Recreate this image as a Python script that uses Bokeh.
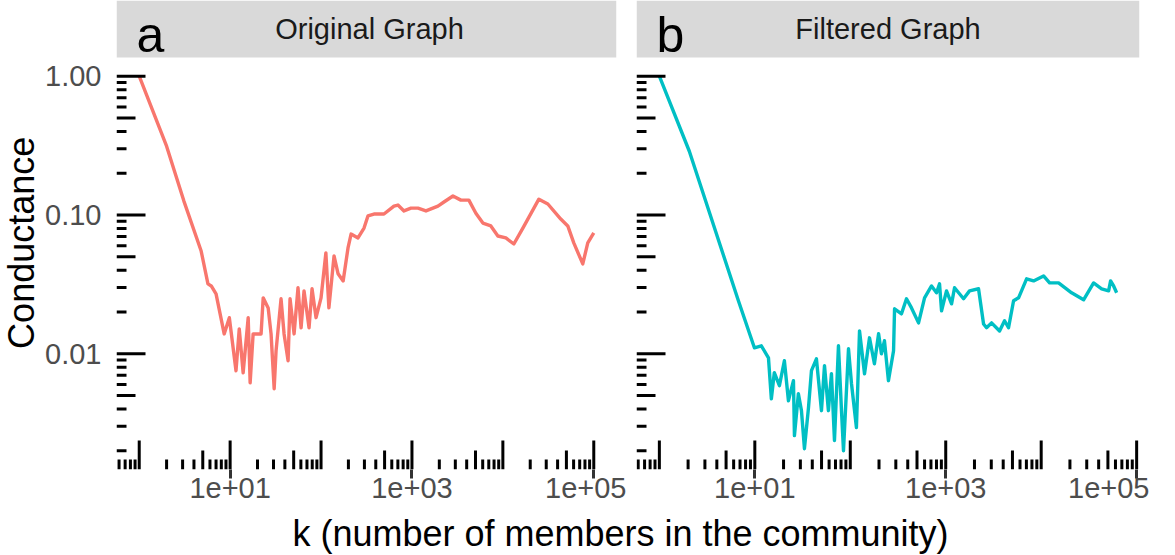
import numpy as np
from bokeh.plotting import figure
from bokeh.models import (Range1d, FixedTicker, PrintfTickFormatter, Label,
                          ColumnDataSource, BoxAnnotation)
from bokeh.layouts import column, row
from bokeh.embed import file_html
from bokeh.resources import INLINE

# ---------------- data ----------------
panel_titles = ["Original Graph", "Filtered Graph"]
panel_tags = ["a", "b"]
line_colors = ["#F8766D", "#00BFC4"]

k_orig = [1, 2, 3.1, 4.8, 5.7, 6.2, 7.0, 8.6, 9.8, 11.6, 12.6, 13.9, 15.8, 16.6,
          17.9, 21.9, 23.1, 26.2, 28.2, 30.5, 32, 36.3, 39.2, 43.4, 45.6, 50.5,
          55.8, 60.3, 65, 73.8, 79.6, 88.1, 100, 113, 122, 139, 154, 175, 198,
          214, 255, 297, 328, 382, 492, 634, 701, 817, 975, 1164, 1426, 1932,
          2249, 2825, 3451, 4227, 5047, 6026, 7379, 8810, 10790, 13210, 16600,
          24890, 31260, 43350, 51760, 60260, 75680, 85900, 100000]
cond_orig = [1.0, 0.313, 0.126, 0.055, 0.0319, 0.0308, 0.027, 0.0139, 0.0182,
             0.00755, 0.0151, 0.0073, 0.0182, 0.00618, 0.0139, 0.0139, 0.0253,
             0.0214, 0.0139, 0.0056, 0.0105, 0.0249, 0.0139, 0.0089, 0.0249,
             0.0139, 0.0299, 0.0154, 0.0284, 0.0154, 0.0294, 0.0182, 0.0253,
             0.0533, 0.0214, 0.0507, 0.0377, 0.0335, 0.0579, 0.0729, 0.0684,
             0.0805, 0.0984, 0.1016, 0.1016, 0.116, 0.118, 0.107, 0.112, 0.112,
             0.107, 0.116, 0.124, 0.137, 0.128, 0.128, 0.103, 0.0875, 0.0834,
             0.0706, 0.0684, 0.0618, 0.0805, 0.130, 0.120, 0.0935, 0.0834,
             0.0630, 0.0444, 0.0630, 0.0743]

k_filt = [1, 2.06, 6.73, 9.9, 11.7, 13.9, 14.9, 16.0, 18.1, 20.4, 22.5, 25.4,
          26.0, 28.6, 30.8, 33.1, 36.5, 39.2, 44.2, 49.9, 53.7, 59.0, 63.5, 68.3,
          75.2, 80.9, 84.9, 95.8, 103, 116, 125, 141, 159, 179, 198, 212, 228,
          251, 284, 291, 344, 388, 438, 519, 600, 710, 801, 861, 904, 1019, 1151,
          1237, 1537, 1776, 2206, 2490, 2677, 3020, 3664, 4132, 4550, 5136, 5794,
          7031, 8323, 10590, 12250, 15210, 20830, 27800, 35400, 42970, 50850,
          53360, 57380, 61710]
cond_filt = [1.0, 0.288, 0.0241, 0.01104, 0.01142, 0.00936, 0.00474, 0.0073,
             0.00589, 0.00891, 0.00459, 0.0064, 0.00257, 0.00515, 0.00389,
             0.00207, 0.00409, 0.00755, 0.0092, 0.00389, 0.0082, 0.00389,
             0.00718, 0.00237, 0.01142, 0.00389, 0.0020, 0.01086, 0.00608,
             0.00294, 0.01463, 0.00718, 0.01303, 0.00848, 0.01393, 0.0100,
             0.01241, 0.0064, 0.01051, 0.0211, 0.0194, 0.0249, 0.0214, 0.0167,
             0.0253, 0.0308, 0.0275, 0.0319, 0.0204, 0.0284, 0.0229, 0.0299,
             0.0249, 0.0284, 0.0294, 0.0164, 0.0154, 0.0167, 0.0146, 0.0173,
             0.0154, 0.0241, 0.0253, 0.0347, 0.0335, 0.0364, 0.0324, 0.0324,
             0.0275, 0.0245, 0.0324, 0.0294, 0.0284, 0.0335, 0.0308, 0.0275]

x_tick_values = [10, 1000, 100000]
x_tick_labels = ["1e+01", "1e+03", "1e+05"]
y_tick_values = [0.01, 0.1, 1.0]

x_title = "k (number of members in the community)"
y_title = "Conductance"

# ---------------- style / layout (pixels) ----------------
FONT = "Liberation Sans"
TICK_FONT = "29px"
STRIP_FONT = "29px"
TITLE_FONT = "36px"
TAG_FONT = "50px"
STRIP_BG = "#D9D9D9"
LONG, MID, SHORT = 29, 19, 10

YLAB_W = 42
FRAME_H = 412
STRIP_H = 57
FRAME_W = [500, 503]
BORDER_L = [72, 10]
BORDER_R = [10, 10]
BOTTOM = 41
TITLE_H = 45
TOTAL_W = YLAB_W + sum(FRAME_W) + sum(BORDER_L) + sum(BORDER_R)


def expand(lo, hi, mult=0.05):
    a, b = np.log10(lo), np.log10(hi)
    pad = (b - a) * mult
    return 10 ** (a - pad), 10 ** (b + pad)


y_lo, y_hi = expand(min(min(cond_orig), min(cond_filt)),
                    max(max(cond_orig), max(cond_filt)))
x_lims = [expand(min(k_orig), max(k_orig)), expand(min(k_filt), max(k_filt))]

# the strip sits on top of the panel, inside the same frame
ppd_y = FRAME_H / (np.log10(y_hi) - np.log10(y_lo))
y_top = 10 ** (np.log10(y_hi) + STRIP_H / ppd_y)


def y_from_top(px):
    return 10 ** (np.log10(y_top) - px / ppd_y)


def x_from_left(i, px):
    lo, hi = x_lims[i]
    ppd = FRAME_W[i] / (np.log10(hi) - np.log10(lo))
    return 10 ** (np.log10(lo) + px / ppd)


def logticks(lo, hi):
    vals, lens = [], []
    for d in range(int(np.floor(np.log10(lo))) - 1, int(np.ceil(np.log10(hi))) + 1):
        for m in range(1, 10):
            v = m * 10.0 ** d
            if lo <= v <= hi:
                vals.append(v)
                lens.append(LONG if m == 1 else (MID if m == 5 else SHORT))
    return vals, lens


def blank_fig(w, h):
    f = figure(width=w, height=h, x_range=Range1d(0, w), y_range=Range1d(0, h),
               x_axis_location=None, y_axis_location=None, min_border=0,
               toolbar_location=None, output_backend="svg",
               outline_line_color=None, background_fill_color="white",
               border_fill_color="white")
    f.grid.visible = False
    return f


def make_panel(i, k, c):
    xr = Range1d(*x_lims[i])
    yr = Range1d(y_lo, y_top)
    p = figure(frame_width=FRAME_W[i], frame_height=STRIP_H + FRAME_H,
               x_axis_type="log", y_axis_type="log", x_range=xr, y_range=yr,
               y_axis_location="left" if i == 0 else None,
               min_border_left=BORDER_L[i], min_border_right=BORDER_R[i],
               min_border_top=0, min_border_bottom=BOTTOM,
               toolbar_location=None, output_backend="svg",
               background_fill_color="white", border_fill_color="white",
               outline_line_color=None)
    p.grid.grid_line_color = None

    # facet strip
    p.add_layout(BoxAnnotation(bottom=y_hi, fill_color=STRIP_BG, fill_alpha=1.0,
                               line_color=None, level="underlay"))
    p.add_layout(Label(x=x_from_left(i, FRAME_W[i] / 2 + (3 if i == 0 else 0)),
                       y=y_from_top(28), text=panel_titles[i],
                       text_align="center", text_baseline="middle",
                       text_font=FONT, text_font_size=STRIP_FONT,
                       text_color="#1A1A1A"))
    p.add_layout(Label(x=x_from_left(i, 20), y=y_from_top(34.5),
                       text=panel_tags[i], text_align="left",
                       text_baseline="middle", text_font=FONT,
                       text_font_size=TAG_FONT, text_color="black"))

    src = ColumnDataSource(dict(k=k, c=c))
    p.line("k", "c", source=src, line_color=line_colors[i], line_width=3.4,
           line_join="round")

    # annotation log ticks (left and bottom)
    yv, yl = logticks(y_lo, y_hi)
    p.ray(x=[xr.start] * len(yv), y=yv, length=yl, angle=0,
          length_units="screen", line_color="black", line_width=3)
    xv, xl = logticks(xr.start, xr.end)
    p.ray(x=xv, y=[yr.start] * len(xv), length=xl, angle=np.pi / 2,
          length_units="screen", line_color="black", line_width=3)

    ax = p.xaxis[0]
    ax.ticker = FixedTicker(ticks=x_tick_values)
    ax.major_label_overrides = dict(zip(x_tick_values, x_tick_labels))
    ax.axis_line_color = None
    ax.minor_tick_line_color = None
    ax.major_tick_in = 0
    ax.major_tick_out = 9
    ax.major_tick_line_color = "#333333"
    ax.major_tick_line_width = 3
    ax.major_label_standoff = -1
    ax.major_label_text_font = FONT
    ax.major_label_text_font_size = TICK_FONT
    ax.major_label_text_color = "#4D4D4D"

    if i == 0:
        ay = p.yaxis[0]
        ay.ticker = FixedTicker(ticks=y_tick_values)
        ay.formatter = PrintfTickFormatter(format="%.2f")
        ay.axis_line_color = None
        ay.minor_tick_line_color = None
        ay.major_tick_in = 0
        ay.major_tick_out = 0
        ay.major_label_standoff = 15
        ay.major_label_text_font = FONT
        ay.major_label_text_font_size = TICK_FONT
        ay.major_label_text_color = "#4D4D4D"
    return p


panels = [make_panel(0, k_orig, cond_orig), make_panel(1, k_filt, cond_filt)]

# y-axis title (its own narrow canvas next to the panels)
panel_h = STRIP_H + FRAME_H + BOTTOM
ylab = blank_fig(YLAB_W, panel_h)
ylab.add_layout(Label(x=21, y=panel_h - STRIP_H - FRAME_H / 2 - 0.5,
                      text=y_title, angle=np.pi / 2, text_align="center",
                      text_baseline="middle", text_font=FONT,
                      text_font_size=TITLE_FONT, text_color="black"))

# x-axis title
t = blank_fig(TOTAL_W, TITLE_H)
t.add_layout(Label(x=620, y=TITLE_H - 22.5, text=x_title, text_align="center",
                   text_baseline="middle", text_font=FONT,
                   text_font_size=TITLE_FONT, text_color="black"))

layout = column(row(ylab, *panels, spacing=0), t, spacing=0)

open("out.html", "w").write(file_html(layout, INLINE))
